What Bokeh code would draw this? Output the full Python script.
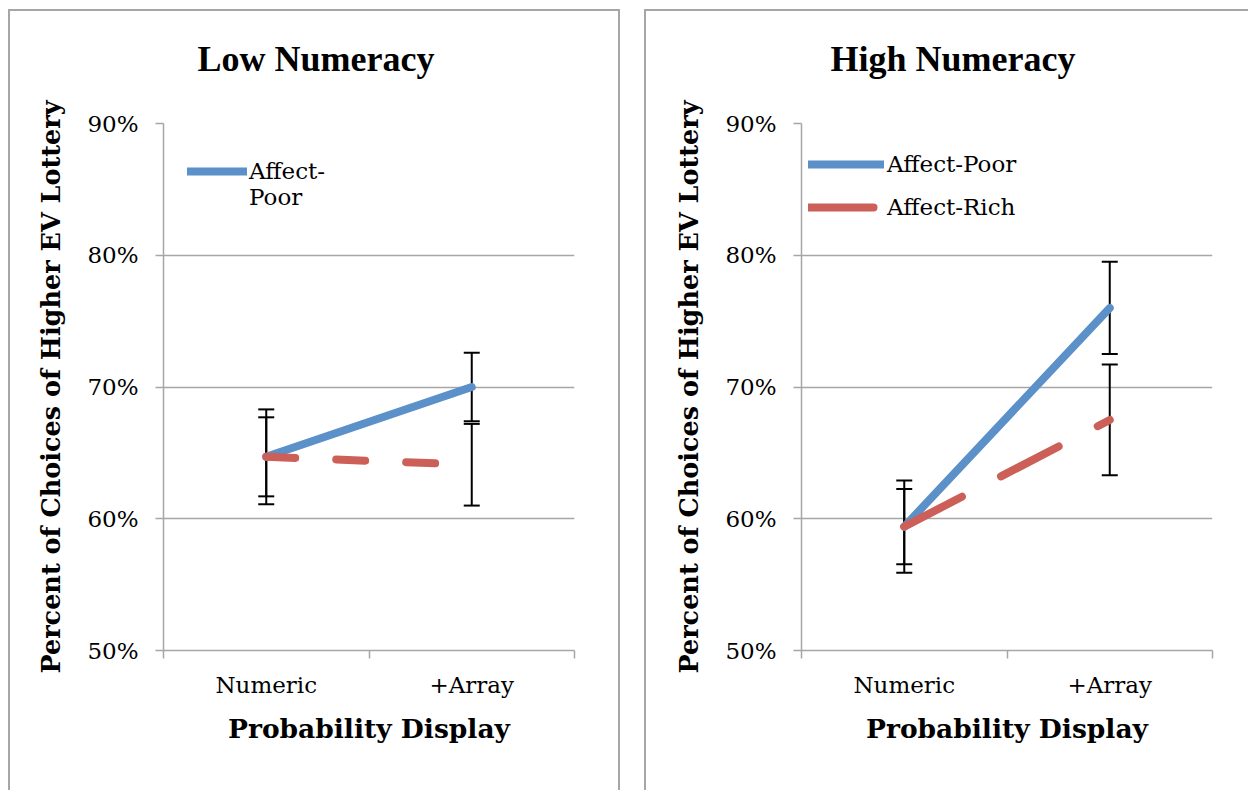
from bokeh.plotting import figure
from bokeh.models import (Range1d, FixedTicker, NumeralTickFormatter, Whisker, TeeHead,
                          ColumnDataSource, Legend, LegendItem, Title)
from bokeh.layouts import row
from bokeh.embed import file_html
from bokeh.resources import INLINE

# ---------------- data ----------------
categories = ["Numeric", "+Array"]
y_ticks = [0.5, 0.6, 0.7, 0.8, 0.9]
panel_titles = ["Low Numeracy", "High Numeracy"]
series_names = ["Affect-Poor", "Affect-Rich"]

low_poor = [0.647, 0.700]
low_poor_err = [0.030, 0.026]
low_rich = [0.647, 0.641]
low_rich_err = [0.036, 0.031]

high_poor = [0.594, 0.760]
high_poor_err = [0.0285, 0.035]
high_rich = [0.594, 0.675]
high_rich_err = [0.035, 0.042]

# ---------------- style ----------------
SERIF = "DejaVu Serif"
TITLE_FONT = "Liberation Serif"
BLUE = "#5B90C8"
RED = "#CC5F58"
GREY = "#A6A6A6"


def make_panel(title, poor, poor_err, rich, rich_err, width, border_left, border_right,
               dash, legend_labels, legend_loc, glyph_w, label_standoff, title_offset,
               spacing, right_border):
    n = len(categories)
    xs = [i + 0.5 for i in range(n)]
    p = figure(width=width, height=781, x_range=Range1d(0, n), y_range=Range1d(0.5, 0.9),
               output_backend="svg", toolbar_location=None,
               min_border_left=border_left, min_border_right=border_right,
               min_border_top=112, min_border_bottom=142)
    side = "2px solid " + GREY
    st = {"border-top": side, "border-left": side}
    if right_border:
        st["border-right"] = side
    p.styles = st
    p.outline_line_color = None
    p.background_fill_color = "white"
    p.border_fill_color = "white"

    # title (a trailing blank line lifts the text above the frame)
    p.title = Title(text=title + "\n", align="left", offset=title_offset,
                    vertical_align="bottom", standoff=10, text_font=TITLE_FONT,
                    text_font_size="36px", text_font_style="bold", text_color="black",
                    text_line_height=1.0)

    # axes
    xa = p.below[0]
    xa.ticker = FixedTicker(ticks=xs, minor_ticks=list(range(n + 1)))
    xa.major_label_overrides = {x: c for x, c in zip(xs, categories)}
    xa.major_tick_out = 0
    xa.major_tick_in = 0
    xa.minor_tick_out = 8
    xa.minor_tick_in = 0
    xa.minor_tick_line_color = GREY
    xa.minor_tick_line_width = 1.5
    xa.major_label_standoff = 13
    xa.axis_label = "Probability Display"
    xa.axis_label_standoff = 12
    xa.axis_label_text_font_size = "26.5px"

    ya = p.left[0]
    ya.ticker = FixedTicker(ticks=y_ticks)
    ya.formatter = NumeralTickFormatter(format="0%")
    ya.major_tick_out = 8
    ya.major_tick_in = 0
    ya.minor_tick_line_color = None
    ya.major_tick_line_color = GREY
    ya.major_tick_line_width = 1.5
    ya.major_label_standoff = 17
    ya.axis_label = "Percent of Choices of Higher EV Lottery"
    ya.axis_label_standoff = 18
    ya.axis_label_text_font_size = "25.5px"

    for ax in (xa, ya):
        ax.axis_line_color = GREY
        ax.axis_line_width = 1.5
        ax.major_label_text_font = SERIF
        ax.major_label_text_font_size = "23px"
        ax.major_label_text_color = "black"
        ax.axis_label_text_font = SERIF
        ax.axis_label_text_font_style = "bold"
        ax.axis_label_text_color = "black"

    p.xgrid.grid_line_color = None
    p.ygrid.ticker = FixedTicker(ticks=y_ticks)
    p.ygrid.grid_line_color = GREY
    p.ygrid.grid_line_width = 1.5

    # error bars
    for vals, errs in ((poor, poor_err), (rich, rich_err)):
        src = ColumnDataSource(dict(x=xs,
                                    upper=[v + e for v, e in zip(vals, errs)],
                                    lower=[v - e for v, e in zip(vals, errs)]))
        w = Whisker(base="x", upper="upper", lower="lower", source=src, dimension="height",
                    line_color="black", line_width=2,
                    upper_head=TeeHead(size=16, line_color="black", line_width=2),
                    lower_head=TeeHead(size=16, line_color="black", line_width=2))
        p.add_layout(w)

    r_poor = p.line(xs, poor, line_color=BLUE, line_width=8, line_cap="round")
    r_rich = p.line(xs, rich, line_color=RED, line_width=8, line_cap="round", line_dash=dash)

    rends = [r_poor, r_rich]
    items = [LegendItem(label=lab, renderers=[rends[i]]) for i, lab in enumerate(legend_labels)]
    leg = Legend(items=items, location=legend_loc, glyph_width=glyph_w, glyph_height=24,
                 label_height=24, spacing=spacing, padding=0, margin=0,
                 label_standoff=label_standoff,
                 border_line_color=None, background_fill_alpha=0,
                 label_text_font=SERIF, label_text_font_size="23px",
                 label_text_line_height=1.5, label_text_color="black")
    p.add_layout(leg)
    return p


left = make_panel(panel_titles[0], low_poor, low_poor_err, low_rich, low_rich_err,
                  width=612, border_left=153, border_right=48, dash="29 41",
                  legend_labels=["\nAffect-\nPoor"], legend_loc=(24, 440), glyph_w=60,
                  label_standoff=2, title_offset=34, spacing=19, right_border=True)
right = make_panel(panel_titles[1], high_poor, high_poor_err, high_rich, high_rich_err,
                   width=604, border_left=155, border_right=38, dash="65 44",
                   legend_labels=series_names, legend_loc=(7, 430), glyph_w=76,
                   label_standoff=3, title_offset=29, spacing=17, right_border=False)

layout = row(left, right, spacing=24, margin=(9, 0, 0, 8))
open("out.html", "w").write(file_html(layout, INLINE))
